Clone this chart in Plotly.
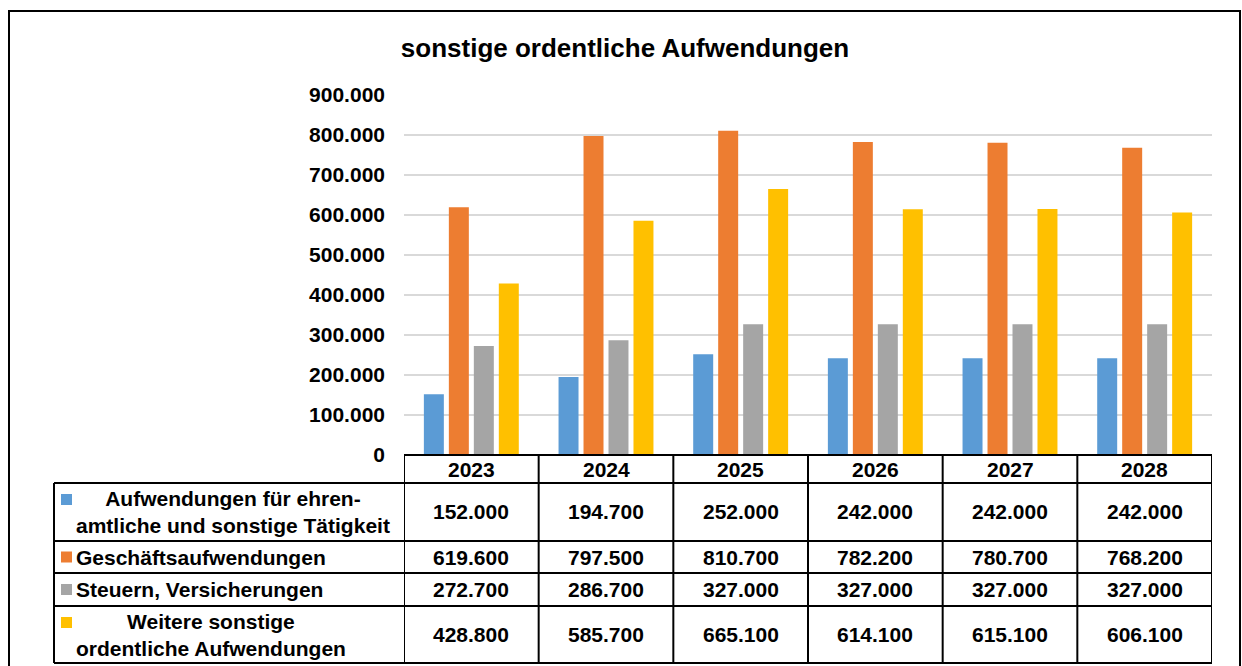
import plotly.graph_objects as go

years = ["2023", "2024", "2025", "2026", "2027", "2028"]
series_names = [
    "Aufwendungen für ehren-<br>amtliche und sonstige Tätigkeit",
    "Geschäftsaufwendungen",
    "Steuern, Versicherungen",
    "Weitere sonstige<br>ordentliche Aufwendungen",
]
ehrenamt = [152000, 194700, 252000, 242000, 242000, 242000]
geschaeft = [619600, 797500, 810700, 782200, 780700, 768200]
steuern = [272700, 286700, 327000, 327000, 327000, 327000]
weitere = [428800, 585700, 665100, 614100, 615100, 606100]
series_values = [ehrenamt, geschaeft, steuern, weitere]
colors = ["#5B9BD5", "#ED7D31", "#A5A5A5", "#FFC000"]

y_ticks = [0, 100000, 200000, 300000, 400000, 500000, 600000, 700000, 800000, 900000]
y_tick_labels = ["0", "100.000", "200.000", "300.000", "400.000", "500.000",
                 "600.000", "700.000", "800.000", "900.000"]

FONT = "Liberation Sans, Arial, sans-serif"
W, H = 1242, 666
L, R, T, B = 404, 1212, 95, 455  # plot area in pixels


def px_x(px):
    return (px - L) / (R - L)


def px_y(py):
    return (B - py) / (B - T)


def fmt(v):
    return f"{v:,}".replace(",", ".")


fig = go.Figure()
for name, vals, col in zip(series_names, series_values, colors):
    fig.add_trace(go.Bar(x=years, y=vals, name=name.replace("<br>", " "),
                         marker=dict(color=col, line=dict(width=0)),
                         showlegend=False))

shapes = []
annotations = []
line = dict(color="black", width=2)

# table row boundaries (pixels)
row_tops = [483, 541, 573, 606]
row_bottoms = [541, 573, 606, 663]

# header row top line
shapes.append(dict(type="line", xref="x", yref="paper", x0=-0.5, x1=len(years) - 0.5,
                   y0=px_y(455), y1=px_y(455), line=line))
# horizontal lines full width
for yy in [483] + row_bottoms:
    shapes.append(dict(type="line", xref="paper", yref="paper", x0=px_x(54), x1=1,
                       y0=px_y(yy), y1=px_y(yy), line=line))
# vertical column lines
for i in range(len(years) + 1):
    shapes.append(dict(type="line", xref="x", yref="paper", x0=i - 0.5, x1=i - 0.5,
                       y0=px_y(455), y1=px_y(663), line=line))
# label column left border
shapes.append(dict(type="line", xref="paper", yref="paper", x0=px_x(54), x1=px_x(54),
                   y0=px_y(483), y1=px_y(663), line=line))

# header year labels
for i, yr in enumerate(years):
    annotations.append(dict(xref="x", yref="paper", x=i, y=px_y(469), text=yr,
                            showarrow=False, xanchor="center", yanchor="middle",
                            font=dict(family=FONT, size=21, color="black")))

# row labels, legend keys and values
for r, (name, vals, col) in enumerate(zip(series_names, series_values, colors)):
    top, bot = row_tops[r], row_bottoms[r]
    mid = (top + bot) / 2
    multi = "<br>" in name
    if multi:
        sq_top = top + 11
    else:
        sq_top = mid - 5.5
    shapes.append(dict(type="rect", xref="paper", yref="paper",
                       x0=px_x(61), x1=px_x(72), y0=px_y(sq_top), y1=px_y(sq_top + 11),
                       fillcolor=col, line=dict(width=0)))
    annotations.append(dict(xref="paper", yref="paper", x=px_x(74), y=px_y(mid),
                            text=name, showarrow=False, xanchor="left", yanchor="middle",
                            align="center",
                            font=dict(family=FONT, size=21, color="black")))
    for i, v in enumerate(vals):
        annotations.append(dict(xref="x", yref="paper", x=i, y=px_y(mid), text=fmt(v),
                                showarrow=False, xanchor="center", yanchor="middle",
                                font=dict(family=FONT, size=21, color="black")))

# outer frame
shapes.append(dict(type="rect", xref="paper", yref="paper", x0=px_x(9), x1=px_x(1240),
                   y0=px_y(700), y1=px_y(11), line=dict(color="black", width=2),
                   fillcolor="rgba(0,0,0,0)", layer="below"))

fig.update_layout(
    width=W, height=H,
    margin=dict(l=L, r=W - R, t=T, b=H - B, pad=0),
    paper_bgcolor="white", plot_bgcolor="white",
    barmode="group", bargap=0.258, bargroupgap=0.2,
    title=dict(text="<b>sonstige ordentliche Aufwendungen</b>", x=px_x(625), xref="paper",
               xanchor="center", y=1 - 48 / H, yref="container", yanchor="middle",
               font=dict(family=FONT, size=26, color="black")),
    xaxis=dict(range=[-0.5, len(years) - 0.5], showticklabels=False, showgrid=False,
               zeroline=False, showline=False, ticks=""),
    yaxis=dict(range=[0, 900000], tickvals=y_ticks, ticktext=[f"<b>{t}</b>" for t in y_tick_labels],
               showgrid=True, gridcolor="#D9D9D9", gridwidth=1.5, zeroline=False,
               showline=False, ticks="", ticklabelstandoff=18,
               tickfont=dict(family=FONT, size=21, color="black")),
    shapes=shapes, annotations=annotations,
    font=dict(family=FONT, color="black"),
)
# make all annotation text bold
for a in fig.layout.annotations:
    a.text = f"<b>{a.text}</b>"

fig.write_html("out.html", config={"displayModeBar": False},
               post_script="document.body.style.margin='0';")
